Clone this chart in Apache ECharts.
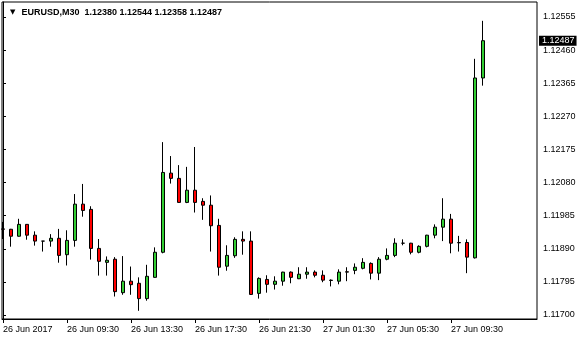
<!DOCTYPE html>
<html>
<head>
<meta charset="utf-8">
<script src="https://cdn.jsdelivr.net/npm/echarts@6/dist/echarts.min.js"></script>
<style>html,body{margin:0;padding:0;background:#fff}#c{width:580px;height:340px}</style>
</head>
<body>
<div id="c"></div>
<script>
const symbol = "EURUSD,M30";
const tickLabels = ["26 Jun 2017","26 Jun 09:30","26 Jun 13:30","26 Jun 17:30","26 Jun 21:30","27 Jun 01:30","27 Jun 05:30","27 Jun 09:30"];
const tickIndex = [0,8,16,24,32,40,48,56];
const priceTicks = [1.11700,1.11795,1.11890,1.11985,1.12080,1.12175,1.12270,1.12365,1.12460,1.12555];

const opens  = [1.11947,1.11946,1.11926,1.11960,1.11929,1.11912,1.11912,1.11920,1.11873,1.11914,
                1.12018,1.12003,1.11891,1.11851,1.11860,1.11764,1.11797,1.11791,1.11747,1.11808,
                1.11880,1.12107,1.12092,1.12023,1.12058,1.12026,1.12015,1.11957,1.11840,1.11870,
                1.11917,1.11912,1.11762,1.11802,1.11788,1.11797,1.11823,1.11804,1.11817,1.11823,
                1.11814,1.11800,1.11797,1.11824,1.11828,1.11834,1.11848,1.11820,1.11860,1.11871,
                1.11906,1.11906,1.11880,1.11897,1.11929,1.11952,1.11975,1.11908,1.11908,1.11864,
                1.12380];
const closes = [1.11946,1.11926,1.11960,1.11929,1.11912,1.11912,1.11920,1.11871,1.11914,1.12018,
                1.12000,1.11891,1.11854,1.11857,1.11767,1.11797,1.11787,1.11747,1.11811,1.11880,
                1.12109,1.12092,1.12023,1.12058,1.12023,1.12015,1.11956,1.11837,1.11871,1.11917,
                1.11912,1.11759,1.11805,1.11788,1.11797,1.11823,1.11808,1.11817,1.11823,1.11814,
                1.11800,1.11799,1.11823,1.11823,1.11837,1.11851,1.11820,1.11860,1.11871,1.11906,
                1.11906,1.11880,1.11897,1.11929,1.11952,1.11975,1.11906,1.11907,1.11866,1.12380,
                1.12487];
const lows   = [1.11918,1.11896,1.11925,1.11916,1.11899,1.11882,1.11896,1.11850,1.11842,1.11896,
                1.11982,1.11859,1.11813,1.11813,1.11753,1.11758,1.11758,1.11712,1.11741,1.11807,
                1.11877,1.12077,1.12022,1.12021,1.11994,1.11973,1.11882,1.11813,1.11827,1.11864,
                1.11873,1.11758,1.11747,1.11764,1.11773,1.11784,1.11791,1.11803,1.11804,1.11808,
                1.11794,1.11782,1.11788,1.11797,1.11817,1.11831,1.11802,1.11800,1.11857,1.11866,
                1.11900,1.11874,1.11877,1.11894,1.11920,1.11912,1.11877,1.11882,1.11820,1.11862,
                1.12358];
const highs  = [1.11967,1.11947,1.11976,1.11961,1.11940,1.11912,1.11932,1.11947,1.11943,1.12047,
                1.12076,1.12012,1.11918,1.11868,1.11866,1.11869,1.11839,1.11808,1.11844,1.11894,
                1.12196,1.12156,1.12130,1.12125,1.12182,1.12035,1.12043,1.11976,1.11900,1.11923,
                1.11940,1.11940,1.11808,1.11814,1.11811,1.11824,1.11825,1.11837,1.11837,1.11828,
                1.11828,1.11802,1.11831,1.11837,1.11848,1.11863,1.11851,1.11866,1.11891,1.11920,
                1.11917,1.11907,1.11900,1.11930,1.11960,1.12035,1.11990,1.11927,1.11917,1.12435,
                1.12544];

const candles = opens.map((o, i) => [i, o, closes[i], lows[i], highs[i]]);
const last = opens.length - 1;
const f5 = v => Number(v).toFixed(5);
const titleText = symbol + "  " + [opens[last], highs[last], lows[last], closes[last]].map(f5).join(" ");

const FONT = "Liberation Sans";
const chart = echarts.init(document.getElementById('c'), null, {renderer: 'canvas'});
chart.setOption({
  animation: false,
  backgroundColor: '#ffffff',
  title: {
    left: 5, top: 3,
    text: '{t|▼}{s|' + titleText + '}',
    textStyle: {
      rich: {
        t: {fontFamily: 'DejaVu Sans', fontSize: 7, color: '#000', padding: [0, 6, 0, 0]},
        s: {fontFamily: FONT, fontSize: 9, color: '#000'}
      }
    }
  },
  grid: {left: 2, right: 43, top: 2, bottom: 21, show: true, borderColor: '#000', borderWidth: 1, backgroundColor: '#fff'},
  xAxis: {
    type: 'value',
    min: -0.125, max: 66.75,
    splitLine: {show: false},
    axisLine: {show: true, onZero: false, lineStyle: {color: '#000', width: 1}},
    axisTick: {show: true, length: 4, customValues: tickIndex, lineStyle: {color: '#000'}},
    axisLabel: {
      customValues: tickIndex, align: 'left', margin: 6,
      color: '#000', fontFamily: FONT, fontSize: 9,
      formatter: v => tickLabels[tickIndex.indexOf(Math.round(v))] || ''
    }
  },
  yAxis: {
    type: 'value', position: 'right', scale: true,
    min: 1.116885, max: 1.125980,
    splitLine: {show: false},
    axisLine: {show: true, lineStyle: {color: '#000', width: 1}},
    axisTick: {show: true, length: 3, customValues: priceTicks, lineStyle: {color: '#000'}},
    axisLabel: {
      customValues: priceTicks, margin: 6,
      color: '#000', fontFamily: FONT, fontSize: 9,
      formatter: v => f5(v)
    }
  },
  series: [{
    type: 'candlestick',
    data: candles,
    encode: {x: 0, y: [1, 2, 3, 4]},
    barWidth: 4,
    itemStyle: {color: '#32CD32', color0: '#FF0000', borderColor: '#000', borderColor0: '#000', borderWidth: 1},
    markLine: {
      silent: true,
      precision: 5,
      symbol: ['none', 'none'],
      lineStyle: {color: 'rgba(0,0,0,0)', width: 1, type: 'solid'},
      label: {
        show: true,
        position: 'end', distance: 2,
        formatter: p => f5(p.value),
        color: '#fff', backgroundColor: '#000',
        fontFamily: FONT, fontSize: 9, lineHeight: 10, padding: [0, 2, 0, 3]
      },
      data: [{yAxis: closes[last]}]
    }
  }]
});
</script>
</body>
</html>
